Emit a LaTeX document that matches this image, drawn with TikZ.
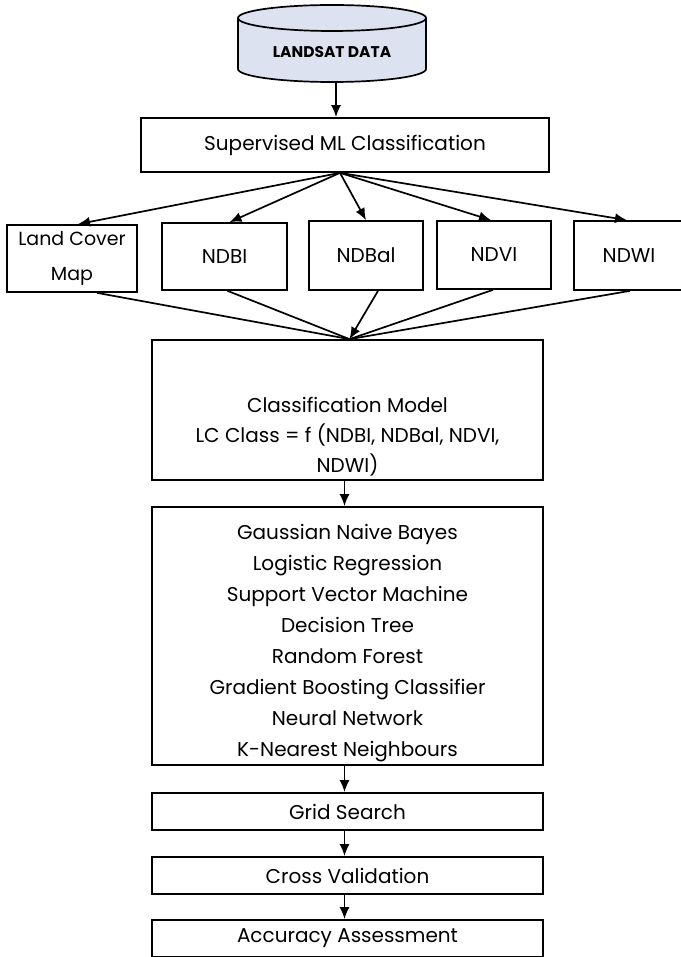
\documentclass[tikz,border=0pt]{standalone}
\usepackage{fontspec}
\setmainfont{Poppins}
\usetikzlibrary{arrows.meta}

\definecolor{dbfill}{HTML}{DCE2F0}

\tikzset{
  box/.style={draw, line width=1.7pt, align=center, inner sep=0pt,
    font=\fontsize{20}{31}\selectfont},
  txt/.style={align=center, inner sep=0pt, font=\fontsize{20}{30}\selectfont},
  arr/.style={-{Latex[length=12pt,width=10pt]}, line width=1.7pt},
  ln/.style={line width=1.7pt},
}

\begin{document}
\begin{tikzpicture}[x=1pt,y=-1pt]
    \useasboundingbox (0,0) rectangle (680,957);

    \fill[dbfill] (238,18) -- (238,69) arc[start angle=180, end angle=0, x radius=94, y radius=13] -- (426,18) -- cycle;
    \fill[dbfill] (332,18) ellipse [x radius=94, y radius=13];
    \draw[ln] (238,18) -- (238,69) arc[start angle=180, end angle=0, x radius=94, y radius=13] -- (426,18);
    \draw[ln] (332,18) ellipse [x radius=94, y radius=13];
    \node[inner sep=0pt, font=\fontsize{15.5}{18}\selectfont\bfseries] (landsat) at (332,52) {LANDSAT DATA};
    \coordinate (dbbot) at (336,82);

    \node[box, minimum width=408, minimum height=54] (sml) at (345,145) {Supervised ML Classification};

    \draw[arr] (dbbot) -- (dbbot |- sml.north);

    \node[box, minimum width=130, minimum height=67, font=\fontsize{19}{35}\selectfont] (lcm) at (72,258.5) {Land Cover\\Map};
    \node[box, minimum width=125, minimum height=67] (ndbi) at (224.5,256.5) {NDBI};
    \node[box, minimum width=114, minimum height=69] (ndbal) at (366,255.5) {NDBal};
    \node[box, minimum width=114, minimum height=68] (ndvi) at (494,255) {NDVI};
    \node[box, minimum width=110, minimum height=69] (ndwi) at (629,255.5) {NDWI};

    \coordinate (fan) at ([xshift=-5pt]sml.south);
    \draw[arr] (fan) -- ([xshift=6pt]lcm.north);
    \draw[arr] (fan) -- ([xshift=5pt]ndbi.north);
    \draw[arr] (fan) -- (ndbal.north);
    \draw[arr] (fan) -- ([xshift=-3pt]ndvi.north);
    \draw[arr] (fan) -- ([xshift=-2pt]ndwi.north);

    \node[box, minimum width=391, minimum height=140] (model) at (347.5,410) {};
    \node[txt] (modeltxt) at (347.5,437) {Classification Model\\LC Class = f (NDBI, NDBal, NDVI,\\NDWI)};

    \coordinate (merge) at ([xshift=2pt]model.north);
    \draw[ln] ([xshift=25pt]lcm.south) -- (merge);
    \draw[ln] ([xshift=3pt]ndbi.south) -- (merge);
    \draw[ln] ([xshift=-1pt]ndvi.south) -- (merge);
    \draw[ln] ([xshift=1pt]ndwi.south) -- (merge);
    \draw[arr] ([xshift=12pt]ndbal.south) -- (merge);

    \node[box, minimum width=391, minimum height=258] (algos) at (347.5,636) {};
    \node[txt, font=\fontsize{20}{31}\selectfont] (algotxt) at (347.5,643) {Gaussian Naive Bayes\\Logistic Regression\\Support Vector Machine\\Decision Tree\\Random Forest\\Gradient Boosting Classifier\\Neural Network\\K-Nearest Neighbours};

    \draw[arr] ([xshift=-3pt]model.south) -- ([xshift=-3pt]algos.north);

    \node[box, minimum width=391, minimum height=37] (grid) at (347.5,811.5) {Grid Search};
    \node[box, minimum width=391, minimum height=37] (cross) at (347.5,875.5) {Cross Validation};
    \node[box, minimum width=391, minimum height=37] (acc) at (347.5,938.5) {Accuracy Assessment};

    \draw[arr] ([xshift=-3pt]algos.south) -- ([xshift=-3pt]grid.north);
    \draw[arr] ([xshift=-3pt]grid.south) -- ([xshift=-3pt]cross.north);
    \draw[arr] ([xshift=-3pt]cross.south) -- ([xshift=-3pt]acc.north);
\end{tikzpicture}
\end{document}
